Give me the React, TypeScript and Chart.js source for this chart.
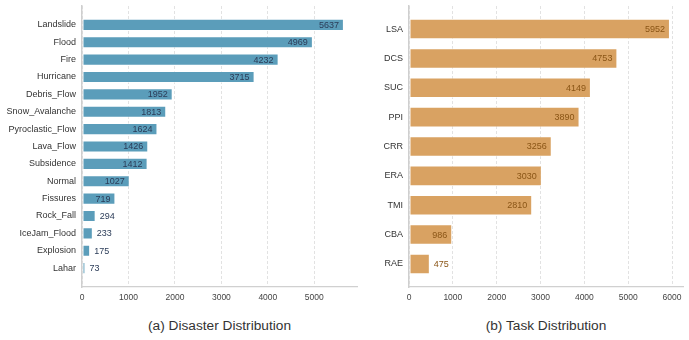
import React, { useEffect, useRef } from "react";
import { Chart, registerables } from "chart.js";

Chart.register(...registerables);

// Disaster type counts
const disasterLabels = [
  "Landslide",
  "Flood",
  "Fire",
  "Hurricane",
  "Debris_Flow",
  "Snow_Avalanche",
  "Pyroclastic_Flow",
  "Lava_Flow",
  "Subsidence",
  "Normal",
  "Fissures",
  "Rock_Fall",
  "IceJam_Flood",
  "Explosion",
  "Lahar",
];
const disasterCounts = [5637, 4969, 4232, 3715, 1952, 1813, 1624, 1426, 1412, 1027, 719, 294, 233, 175, 73];
const disasterTicks = [0, 1000, 2000, 3000, 4000, 5000];

// Task type counts
const taskLabels = ["LSA", "DCS", "SUC", "PPI", "CRR", "ERA", "TMI", "CBA", "RAE"];
const taskCounts = [5952, 4753, 4149, 3890, 3256, 3030, 2810, 986, 475];
const taskTicks = [0, 1000, 2000, 3000, 4000, 5000, 6000];

const disasterTitle = "(a) Disaster Distribution";
const taskTitle = "(b) Task Distribution";

const FONT = "'Liberation Sans', Arial, Helvetica, sans-serif";

type PanelProps = {
  title: string;
  labels: string[];
  values: number[];
  ticks: number[];
  barColor: string;
  textColor: string;
  yAxisWidth: number;
  padRight: number;
  left: number;
  width: number;
};

const CANVAS_H = 300;

// Writes each bar's value inside its end, or just past it for short bars.
const valueLabelPlugin = {
  id: "valueLabels",
  afterDatasetsDraw(chart: any, _args: any, opts: any) {
    const ctx = chart.ctx;
    const meta = chart.getDatasetMeta(0);
    const values: number[] = opts.values || [];
    const maxV = Math.max(...values);
    ctx.save();
    ctx.font = `9px ${FONT}`;
    ctx.fillStyle = opts.color;
    ctx.textBaseline = "middle";
    meta.data.forEach((bar: any, i: number) => {
      const v = values[i];
      if (v > 0.1 * maxV) {
        ctx.textAlign = "right";
        ctx.fillText(String(v), bar.x - 5, bar.y + 0.5);
      } else {
        ctx.textAlign = "left";
        ctx.fillText(String(v), bar.x + 4, bar.y + 0.5);
      }
    });
    ctx.restore();
  },
};

function Panel({ title, labels, values, ticks, barColor, textColor, yAxisWidth, padRight, left, width }: PanelProps) {
  const ref = useRef<HTMLCanvasElement | null>(null);

  useEffect(() => {
    if (!ref.current) return;
    const n = labels.length;
    const half = 0.35;
    const span = n - 1 + 2 * half;
    const margin = 0.05 * span;
    const maxV = Math.max(...values);

    const chart = new Chart(ref.current, {
      type: "bar",
      data: {
        datasets: [
          {
            data: values.map((v, i) => ({ x: v, y: i })),
            backgroundColor: barColor,
            borderColor: "rgba(255,255,255,0.5)",
            borderWidth: 1,
            borderSkipped: false,
            barPercentage: 0.7,
            categoryPercentage: 1,
          },
        ],
      },
      options: {
        indexAxis: "y",
        animation: false,
        responsive: false,
        maintainAspectRatio: false,
        devicePixelRatio: 1,
        layout: { padding: { top: 6, right: padRight, left: 0, bottom: 0 } },
        plugins: {
          legend: { display: false },
          tooltip: { enabled: false },
          valueLabels: { values, color: textColor },
        } as any,
        scales: {
          x: {
            type: "linear",
            bounds: "data",
            min: 0,
            max: maxV * 1.05,
            grid: {
              color: "#e2e2e2",
              lineWidth: 1,
              drawTicks: false,
            },
            border: { display: true, color: "#d0d0d0", width: 1.2, dash: [3, 2] },
            ticks: {
              padding: 6,
              color: "#444",
              font: { family: FONT, size: 8.5 },
              maxRotation: 0,
              autoSkip: false,
              callback: (v: any) => String(v),
            },
            afterBuildTicks: (scale: any) => {
              scale.ticks = ticks.map((v) => ({ value: v }));
            },
            afterFit: (scale: any) => {
              scale.height = 13;
              scale.paddingLeft = 0;
              scale.paddingRight = 0;
              scale.paddingTop = 0;
              scale.paddingBottom = 0;
            },
          },
          y: {
            type: "linear",
            bounds: "data",
            offset: false,
            reverse: true,
            min: -half - margin,
            max: n - 1 + half + margin,
            grid: { display: false, drawTicks: false, offset: false },
            border: { display: true, color: "#cfcfcf", width: 1.5 },
            ticks: {
              autoSkip: false,
              padding: 6,
              color: "#333",
              font: { family: FONT, size: 9 },
              callback: (v: any) => {
                const idx = Number(v);
                return Number.isInteger(idx) && idx >= 0 && idx < n ? labels[idx] : null;
              },
            },
            afterBuildTicks: (scale: any) => {
              scale.ticks = labels.map((_, i) => ({ value: i }));
            },
            afterFit: (scale: any) => {
              scale.width = yAxisWidth;
              scale.paddingLeft = 0;
              scale.paddingRight = 0;
              scale.paddingTop = 0;
              scale.paddingBottom = 0;
            },
          },
        },
      } as any,
      plugins: [valueLabelPlugin as any],
    });

    return () => chart.destroy();
  }, [labels, values, ticks, barColor, textColor, yAxisWidth, padRight]);

  const areaCenter = yAxisWidth + (width - yAxisWidth - padRight) / 2;

  return (
    <div style={{ position: "absolute", left, top: 0, width, height: 340 }}>
      <canvas
        ref={ref}
        width={width}
        height={CANVAS_H}
        style={{ position: "absolute", left: 0, top: 0, width, height: CANVAS_H, display: "block" }}
      />
      <div
        style={{
          position: "absolute",
          top: 317,
          left: areaCenter - 150,
          width: 300,
          textAlign: "center",
          fontFamily: FONT,
          fontSize: 13.7,
          color: "#333",
          lineHeight: "18px",
          whiteSpace: "nowrap",
        }}
      >
        {title}
      </div>
    </div>
  );
}

export default function App() {
  return (
    <div
      style={{
        position: "fixed",
        left: 0,
        top: 0,
        width: 689,
        height: 340,
        background: "#ffffff",
        overflow: "hidden",
      }}
    >
      <Panel
        title={disasterTitle}
        labels={disasterLabels}
        values={disasterCounts}
        ticks={disasterTicks}
        barColor="#5b9dba"
        textColor="#2b3c58"
        yAxisWidth={82}
        padRight={5}
        left={0}
        width={362}
      />
      <Panel
        title={taskTitle}
        labels={taskLabels}
        values={taskCounts}
        ticks={taskTicks}
        barColor="#d9a262"
        textColor="#8a5516"
        yAxisWidth={47}
        padRight={6}
        left={362}
        width={327}
      />
    </div>
  );
}
